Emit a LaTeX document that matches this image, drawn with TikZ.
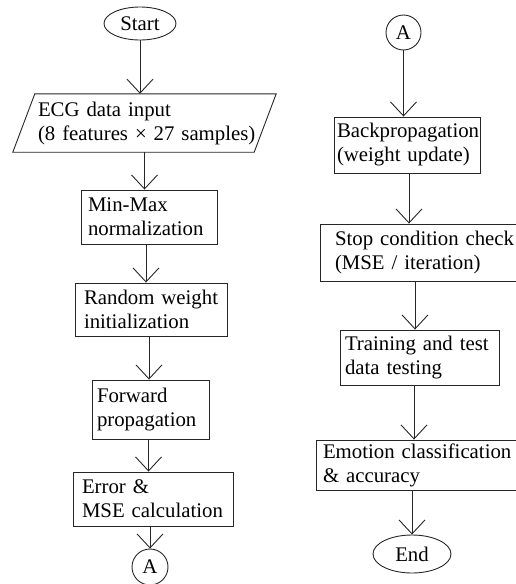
\documentclass[tikz,border=0pt]{standalone}
\usepackage{fontspec}
\setmainfont{Liberation Serif}
\usetikzlibrary{arrows.meta,shapes.geometric}
\newcommand\chartfont{\fontsize{20.8}{24}\selectfont}
% two unbreakable lines, set flush left
\newcommand\twolines[2]{\mbox{#1}\\\mbox{#2}}
\begin{document}
\begin{tikzpicture}[x=1pt,y=-1pt,
  every node/.style={font=\chartfont},
  ln/.style={draw=black!85, line width=0.9pt},
  proc/.style={ln, rectangle, align=left, inner ysep=0pt},
  term/.style={ln, ellipse, inner sep=0pt},
  conn/.style={ln, circle, inner sep=0pt},
  arr/.style={ln, -{Straight Barb[length=14pt,width=26pt]}}]
\useasboundingbox (0,0) rectangle (515,584);

% left column
\node[term, minimum width=72pt, minimum height=33pt] (start) at (140,23.5) {Start};
\node[align=left, inner ysep=0pt, inner xsep=25pt, text width=213pt, minimum height=58pt] (input) at (144.5,123)
  {\twolines{ECG data input}{(8 features × 27 samples)}};
\draw[ln] ([xshift=22pt]input.north west) -- (input.north east)
  -- ([xshift=-22pt]input.south east) -- (input.south west) -- cycle;
\node[proc, text width=122pt, inner xsep=7pt, minimum height=54pt] (minmax) at (149,217) {\twolines{Min-Max}{normalization}};
\node[proc, text width=134pt, inner xsep=9pt, minimum height=53pt] (random) at (151,309.5) {\twolines{Random weight}{initialization}};
\node[proc, text width=107pt, inner xsep=5pt, minimum height=59pt] (forward) at (150.5,409.5) {\twolines{Forward}{propagation}};
\node[proc, text width=142pt, inner xsep=9pt, minimum height=54pt] (error) at (153,499) {\twolines{Error \&}{MSE calculation}};
\node[conn, minimum size=36pt] (a1) at (150,567) {A};

% right column
\node[conn, minimum size=35pt] (a2) at (403.5,32.5) {A};
\node[proc, text width=140pt, inner xsep=3pt, minimum height=56pt] (back) at (407,145) {\twolines{Backpropagation}{(weight update)}};
\node[proc, text width=177pt, inner xsep=15pt, minimum height=57pt] (stop) at (423.5,252.5) {\twolines{Stop condition check}{(MSE / iteration)}};
\node[proc, text width=149pt, inner xsep=5pt, minimum height=55pt] (train) at (419.5,357.5) {\twolines{Training and test}{data testing}};
\node[proc, text width=193pt, inner xsep=7pt, minimum height=50pt] (emo) at (419.5,465) {\twolines{Emotion classification}{\& accuracy}};
\node[term, minimum width=78pt, minimum height=38pt] (end) at (412,554) {End};

% connectors
\draw[arr] (start.south) -- (start.south |- input.north);
\draw[arr] (input.south) -- (input.south |- minmax.north);
\draw[arr] ([xshift=-3pt]minmax.south) -- ([xshift=-3pt]minmax.south |- random.north);
\draw[arr] ([xshift=-2pt]random.south) -- ([xshift=-2pt]random.south |- forward.north);
\draw[arr] ([xshift=-2pt]forward.south) -- ([xshift=-2pt]forward.south |- error.north);
\draw[arr] (error.south -| a1.north) -- (a1.north);
\draw[arr] (a2.south) -- (a2.south |- back.north);
\draw[arr] ([xshift=2pt]back.south) -- ([xshift=2pt]back.south |- stop.north);
\draw[arr] ([xshift=-4.5pt]train.north |- stop.south) -- ([xshift=-4.5pt]train.north);
\draw[arr] ([xshift=-5.5pt]train.south) -- ([xshift=-5.5pt]train.south |- emo.north);
\draw[arr] (emo.south -| end.north) -- (end.north);
\end{tikzpicture}
\end{document}
